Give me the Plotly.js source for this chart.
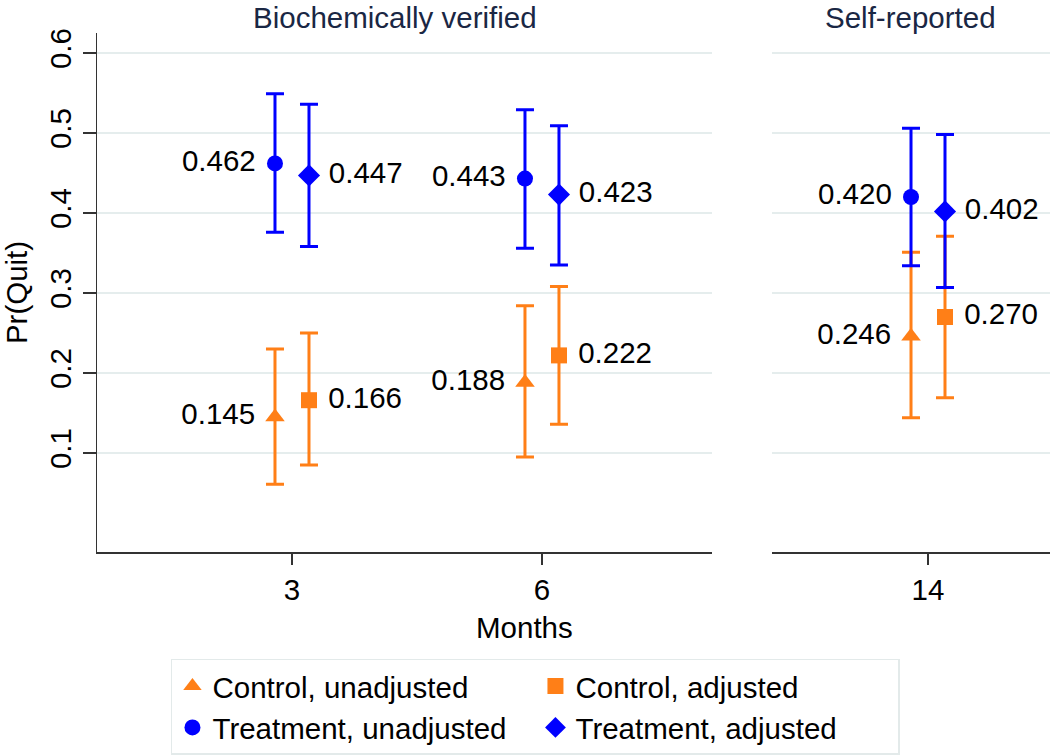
<!DOCTYPE html>
<html><head><meta charset="utf-8">
<script src="https://cdn.plot.ly/plotly-3.0.1.min.js"></script>
<style>html,body{margin:0;padding:0;background:#fff}#chart{width:1050px;height:755px}</style>
</head><body><div id="chart"></div>
<script>
// ---- data ----
const months = ["3", "6", "14"];
const leftIdx = [0, 1];   // Biochemically verified
const rightIdx = [2];     // Self-reported
const panelTitles = ["Biochemically verified", "Self-reported"];
const seriesNames = ["Control, unadjusted", "Control, adjusted", "Treatment, unadjusted", "Treatment, adjusted"];

const ctrlUnadj   = [0.145, 0.188, 0.246];
const ctrlUnadjLo = [0.061, 0.095, 0.144];
const ctrlUnadjHi = [0.230, 0.284, 0.351];

const ctrlAdj   = [0.166, 0.222, 0.270];
const ctrlAdjLo = [0.085, 0.136, 0.169];
const ctrlAdjHi = [0.250, 0.308, 0.371];

const treatUnadj   = [0.462, 0.443, 0.420];
const treatUnadjLo = [0.376, 0.356, 0.334];
const treatUnadjHi = [0.549, 0.529, 0.506];

const treatAdj   = [0.447, 0.423, 0.402];
const treatAdjLo = [0.358, 0.335, 0.307];
const treatAdjHi = [0.536, 0.509, 0.498];

const yTicks = [0.1, 0.2, 0.3, 0.4, 0.5, 0.6];
const yTickText = ["0.1", "0.2", "0.3", "0.4", "0.5", "0.6"];

// ---- styling ----
const FONT = "Liberation Sans, Arial, Helvetica, sans-serif";
const FS = 29.5;
const ORANGE = "#ff7f17";
const BLUE = "#0000ff";
const GRID = "#e5eded";
const AXIS = "#333333";
const NB = "\u00a0";

const series = [
  {name: seriesNames[0], v: ctrlUnadj, lo: ctrlUnadjLo, hi: ctrlUnadjHi, color: ORANGE, symbol: "triangle-up", size: 17, grp: "u", side: "left"},
  {name: seriesNames[1], v: ctrlAdj, lo: ctrlAdjLo, hi: ctrlAdjHi, color: ORANGE, symbol: "square", size: 16, grp: "a", side: "right"},
  {name: seriesNames[2], v: treatUnadj, lo: treatUnadjLo, hi: treatUnadjHi, color: BLUE, symbol: "circle", size: 16, grp: "u", side: "left"},
  {name: seriesNames[3], v: treatAdj, lo: treatAdjLo, hi: treatAdjHi, color: BLUE, symbol: "diamond", size: 17, grp: "a", side: "right"}
];

const traces = [];
[[leftIdx, "x", "y", true], [rightIdx, "x2", "y2", false]].forEach(([idx, xa, ya, legend]) => {
  series.forEach(s => {
    const v = idx.map(i => s.v[i]);
    traces.push({
      type: "scatter",
      mode: "markers+text",
      name: s.name,
      legendgroup: s.name,
      showlegend: legend,
      xaxis: xa, yaxis: ya,
      offsetgroup: s.grp,
      x: idx.map(i => months[i]),
      y: v,
      text: v.map(n => s.side === "left" ? n.toFixed(3) + NB : NB + n.toFixed(3)),
      textposition: s.side === "left" ? "middle left" : "middle right",
      textfont: {family: FONT, size: FS, color: "#000"},
      marker: {color: s.color, symbol: s.symbol, size: s.size, line: {width: 0}},
      error_y: {
        type: "data", symmetric: false,
        array: idx.map(i => s.hi[i] - s.v[i]),
        arrayminus: idx.map(i => s.v[i] - s.lo[i]),
        color: s.color, thickness: 3, width: 9
      },
      cliponaxis: false,
      hoverinfo: "x+y+name"
    });
  });
});

const yRange = [-0.02375, 0.625];
const commonX = {
  type: "category",
  showline: true, linecolor: AXIS, linewidth: 1.5,
  ticks: "outside", ticklen: 11, tickwidth: 1.5, tickcolor: AXIS,
  showgrid: false, zeroline: false,
  tickfont: {family: FONT, size: FS, color: "#000"},
  fixedrange: true
};

const layout = {
  width: 1050, height: 755,
  margin: {l: 97, r: 0, t: 33, b: 203, pad: 0},
  paper_bgcolor: "#ffffff", plot_bgcolor: "#ffffff",
  font: {family: FONT, size: FS, color: "#000"},
  scattermode: "group",
  scattergap: 0.728,
  showlegend: true,
  xaxis: Object.assign({}, commonX, {
    domain: [0, 0.6453], anchor: "y",
    categoryorder: "array", categoryarray: leftIdx.map(i => months[i]),
    range: [-0.78, 1.68]
  }),
  xaxis2: Object.assign({}, commonX, {
    domain: [0.7083, 1], anchor: "y2",
    categoryorder: "array", categoryarray: rightIdx.map(i => months[i]),
    range: [-0.624, 0.488]
  }),
  yaxis: {
    domain: [0, 1], anchor: "x", range: yRange,
    tickmode: "array", tickvals: yTicks, ticktext: yTickText,
    tickangle: -90,
    showline: true, linecolor: AXIS, linewidth: 1.5,
    ticks: "outside", ticklen: 13, tickwidth: 1.5, tickcolor: AXIS,
    showgrid: true, gridcolor: GRID, gridwidth: 2.5,
    zeroline: false,
    tickfont: {family: FONT, size: FS, color: "#000"},
    title: {text: "Pr(Quit)", font: {family: FONT, size: FS, color: "#000"}, standoff: 10},
    fixedrange: true
  },
  yaxis2: {
    domain: [0, 1], anchor: "x2", range: yRange,
    tickmode: "array", tickvals: yTicks,
    showticklabels: false, ticks: "", showline: false,
    showgrid: true, gridcolor: GRID, gridwidth: 2.5,
    zeroline: false, fixedrange: true
  },
  legend: {
    orientation: "h",
    x: 0.0776, xanchor: "left",
    y: -0.206, yanchor: "top",
    bgcolor: "#ffffff", bordercolor: "#e3eaea", borderwidth: 1.5,
    font: {family: FONT, size: FS, color: "#000"},
    entrywidth: 318, entrywidthmode: "pixels",
    traceorder: "normal"
  },
  annotations: [
    {text: panelTitles[0], xref: "paper", yref: "paper", x: 0.3127, y: 1.0636,
     xanchor: "center", yanchor: "top", showarrow: false, borderpad: 0,
     font: {family: FONT, size: FS, color: "#1a2744"}},
    {text: panelTitles[1], xref: "paper", yref: "paper", x: 0.8541, y: 1.0636,
     xanchor: "center", yanchor: "top", showarrow: false, borderpad: 0,
     font: {family: FONT, size: FS, color: "#1a2744"}},
    {text: "Months", xref: "paper", yref: "paper", x: 0.449, y: -0.1464,
     xanchor: "center", yanchor: "middle", showarrow: false,
     font: {family: FONT, size: FS, color: "#000"}}
  ]
};

Plotly.newPlot("chart", traces, layout, {displayModeBar: false, staticPlot: true});
</script>
</body></html>
